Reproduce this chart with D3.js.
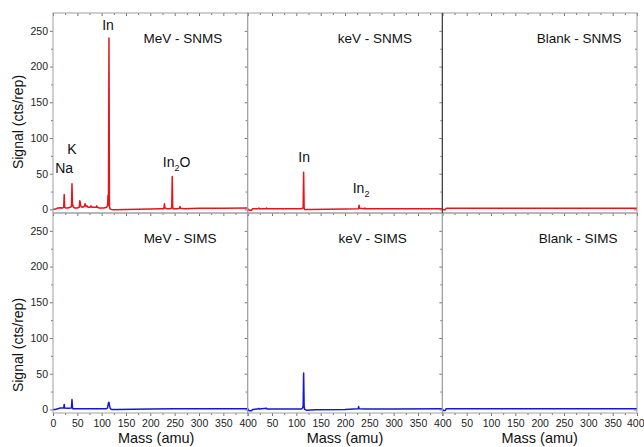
<!DOCTYPE html>
<html>
<head>
<meta charset="utf-8">
<script src="https://cdn.jsdelivr.net/npm/d3@7"></script>
<style>
  html, body { margin: 0; padding: 0; background: #fff; }
  svg { display: block; font-family: "Liberation Sans", Arial, sans-serif; }
</style>
</head>
<body>
<svg id="chart" width="644" height="447"></svg>
<script>
// ---------------- DATA ----------------
const massTicks = [0, 50, 100, 150, 200, 250, 300, 350, 400];
const massMinorTicks = [25, 75, 125, 175, 225, 275, 325, 375];
const signalTicks = [0, 50, 100, 150, 200, 250];
const signalMinorTicks = [25, 75, 125, 175, 225];
const columnNames = ["MeV", "keV", "Blank"];
const rowNames = ["SNMS", "SIMS"];

// MeV - SNMS
const mevSnmsMass   = [0, 5, 10, 15, 20, 22, 23, 24, 26, 30, 35, 38, 39, 40, 41, 42, 45, 50, 54, 55, 56, 57, 58, 60, 64, 66, 67, 68, 70, 72, 76, 78, 80, 85, 89, 90, 91, 95, 100, 105, 110, 112, 113, 114, 115, 116, 117, 120, 125, 150, 200, 220, 227, 228, 229, 230, 235, 240, 244, 245, 246, 247, 250, 255, 260, 261, 262, 270, 300, 350, 400];
const mevSnmsSignal = [0, 0.5, 2, 2.5, 2, 3, 21, 3, 2, 2, 3, 4, 36, 8, 5, 3, 2, 2, 3, 12, 10, 5, 4, 3, 4, 8, 6, 4, 5, 3, 3, 5, 3, 3, 3, 5, 3, 2, 2, 2, 3, 5, 20, 6, 240, 5, 1, 0, -0.5, 0, 0.5, 1, 1, 2, 8, 2, 1, 1, 2, 46, 3, 1, 1, 1, 1.5, 4, 1.5, 1, 1.5, 1.8, 2];

// keV - SNMS
const kevSnmsMass   = [0, 3, 8, 10, 20, 22, 23, 24, 38, 39, 40, 110, 114, 115, 116, 117, 125, 200, 228, 229, 230, 240, 241, 242, 300, 400];
const kevSnmsSignal = [1, -1, -1, 1, 1, 1.5, 2, 1, 1, 2, 1, 1, 2, 52, 2, 0, 0, 0.5, 1, 6, 1.5, 1, 2, 1, 1, 1];

// Blank - SNMS
const blankSnmsMass   = [0, 2, 6, 8, 400];
const blankSnmsSignal = [1.5, -0.5, -0.5, 1.5, 1.5];

// MeV - SIMS
const mevSimsMass   = [0, 5, 10, 15, 20, 22, 23, 24, 30, 38, 39, 40, 41, 50, 100, 110, 112, 113, 114, 115, 116, 117, 118, 120, 130, 200, 250, 400];
const mevSimsSignal = [0, 0, 1, 2, 2, 2, 7, 2, 1.5, 2, 14, 3, 1, 1, 1, 1, 2, 6, 9, 10, 6, 3, 1, 0, 0, 0.5, 1, 1];

// keV - SIMS
const kevSimsMass   = [0, 3, 8, 10, 20, 23, 24, 39, 40, 110, 113, 114, 115, 116, 117, 120, 140, 200, 227, 228, 229, 240, 300, 400];
const kevSimsSignal = [1, -2, -2, 0, 0.5, 1.5, 0.5, 1.5, 0.5, 0.5, 2, 5, 51, 5, 0, -1, -0.5, 0, 1, 4, 1, 0.5, 0.5, 1];

// Blank - SIMS
const blankSimsMass   = [0, 2, 6, 8, 400];
const blankSimsSignal = [1, -1.5, -1.5, 1, 1];

// Panel labels (mass position per row/column) and peak annotations
const panelLabelMass = [[267, 261.5, 281], [261, 257, 279]];
const panelLabelSignal = 233;
const xTitleMass = [212, 200, 200];
const peakLabels = [
  { row: 0, col: 0, text: "In", sub: "", tail: "", mass: 113, signal: 251 },
  { row: 0, col: 0, text: "K", sub: "", tail: "", mass: 39, signal: 77 },
  { row: 0, col: 0, text: "Na", sub: "", tail: "", mass: 23, signal: 51 },
  { row: 0, col: 0, text: "In", sub: "2", tail: "O", mass: 254, signal: 59 },
  { row: 0, col: 1, text: "In", sub: "", tail: "", mass: 116, signal: 66 },
  { row: 0, col: 1, text: "In", sub: "2", tail: "", mass: 233, signal: 23 }
];

const series = [
  [ {m: mevSnmsMass, s: mevSnmsSignal}, {m: kevSnmsMass, s: kevSnmsSignal}, {m: blankSnmsMass, s: blankSnmsSignal} ],
  [ {m: mevSimsMass, s: mevSimsSignal}, {m: kevSimsMass, s: kevSimsSignal}, {m: blankSimsMass, s: blankSimsSignal} ]
];
const rowColors = ["#e8141c", "#1616d8"];

// ---------------- LAYOUT ----------------
const svg = d3.select("#chart");
const plotLeft = 53, plotRight = 637, plotTop = 13, rowH = 200;
const colW = (plotRight - plotLeft) / 3;
const tickColor = "#777", borderColor = "#a0a0a0";

const xScales = columnNames.map((_, i) => d3.scaleLinear().domain([0, 400]).range([plotLeft + i * colW, plotLeft + (i + 1) * colW]));
const yScales = rowNames.map((_, r) => d3.scaleLinear().domain([-5, 275]).range([plotTop + (r + 1) * rowH, plotTop + r * rowH]));

const makeLine = (xs, ys) => d3.line().x(d => xs(d[0])).y(d => ys(d[1]));

// data lines
series.forEach((row, r) => {
  row.forEach((sr, c) => {
    const pts = sr.m.map((m, i) => [m, sr.s[i]]);
    svg.append("path")
      .datum(pts)
      .attr("d", makeLine(xScales[c], yScales[r]))
      .attr("fill", "none")
      .attr("stroke", rowColors[r])
      .attr("stroke-width", 1.5)
      .attr("stroke-linejoin", "round");
  });
});

// axes / ticks
function styleAxis(g) {
  g.select(".domain").remove();
  g.selectAll(".tick line").attr("stroke", tickColor);
  g.selectAll(".tick text").attr("fill", "#222").attr("font-size", "10.5px")
    .attr("font-family", "'Liberation Sans', Arial, sans-serif");
}

rowNames.forEach((_, r) => {
  const ys = yScales[r];
  for (let c = 0; c <= 3; c++) {
    const xb = plotLeft + c * colW;
    const major = d3.axisLeft(ys).tickValues(signalTicks).tickSize(3).tickPadding(2)
      .tickFormat(c === 0 ? d3.format("d") : () => "");
    svg.append("g").attr("transform", `translate(${xb},0)`).call(major).call(styleAxis);
    const minor = d3.axisLeft(ys).tickValues(signalMinorTicks).tickSize(2).tickFormat(() => "");
    svg.append("g").attr("transform", `translate(${xb},0)`).call(minor).call(styleAxis);
  }
});

columnNames.forEach((_, c) => {
  const xs = xScales[c];
  [plotTop, plotTop + rowH, plotTop + 2 * rowH].forEach((yb, k) => {
    const labelled = k === 2;
    const major = d3.axisBottom(xs).tickValues(massTicks).tickSize(3).tickPadding(4)
      .tickFormat(d => (labelled && !(d === 0 && c > 0)) ? d : "");
    const g = svg.append("g").attr("transform", `translate(0,${yb})`).call(major).call(styleAxis);
    if (labelled && c === columnNames.length - 1) {
      // keep the last label inside the picture
      g.selectAll(".tick text").filter(d => d === 400).attr("text-anchor", "end").attr("dx", 7);
    }
    const minor = d3.axisBottom(xs).tickValues(massMinorTicks).tickSize(2).tickFormat(() => "");
    svg.append("g").attr("transform", `translate(0,${yb})`).call(minor).call(styleAxis);
  });
});

// panel borders
rowNames.forEach((_, r) => {
  columnNames.forEach((_, c) => {
    const [x0, x1] = xScales[c].range();
    const [y1, y0] = yScales[r].range();
    svg.append("rect")
      .attr("x", x0).attr("y", y0).attr("width", x1 - x0).attr("height", y1 - y0)
      .attr("fill", "none").attr("stroke", borderColor).attr("stroke-width", 1);
  });
});
svg.append("line")
  .attr("x1", xScales[2].range()[0]).attr("x2", xScales[2].range()[0])
  .attr("y1", yScales[0].range()[1]).attr("y2", yScales[0].range()[0])
  .attr("stroke", "#333").attr("stroke-width", 1);

// panel labels
rowNames.forEach((rn, r) => {
  columnNames.forEach((cn, c) => {
    svg.append("text")
      .attr("x", xScales[c](panelLabelMass[r][c]))
      .attr("y", yScales[r](panelLabelSignal))
      .attr("text-anchor", "middle")
      .attr("font-size", "13.5px")
      .attr("fill", "#111")
      .text(`${cn} - ${rn}`);
  });
});

// peak labels
peakLabels.forEach(p => {
  const t = svg.append("text")
    .attr("x", xScales[p.col](p.mass))
    .attr("y", yScales[p.row](p.signal))
    .attr("text-anchor", "middle")
    .attr("font-size", "14px")
    .attr("fill", "#111");
  t.append("tspan").text(p.text);
  if (p.sub) t.append("tspan").attr("font-size", "9px").attr("dy", 4).text(p.sub);
  if (p.tail) t.append("tspan").attr("dy", -4).text(p.tail);
});

// axis titles
columnNames.forEach((_, c) => {
  svg.append("text")
    .attr("x", xScales[c](xTitleMass[c]))
    .attr("y", 443)
    .attr("text-anchor", "middle")
    .attr("font-size", "14.5px")
    .attr("fill", "#111")
    .text("Mass (amu)");
});
[122, 345].forEach(cy => {
  svg.append("text")
    .attr("transform", `translate(23,${cy}) rotate(-90)`)
    .attr("text-anchor", "middle")
    .attr("font-size", "14px")
    .attr("fill", "#111")
    .text("Signal (cts/rep)");
});
</script>
</body>
</html>
